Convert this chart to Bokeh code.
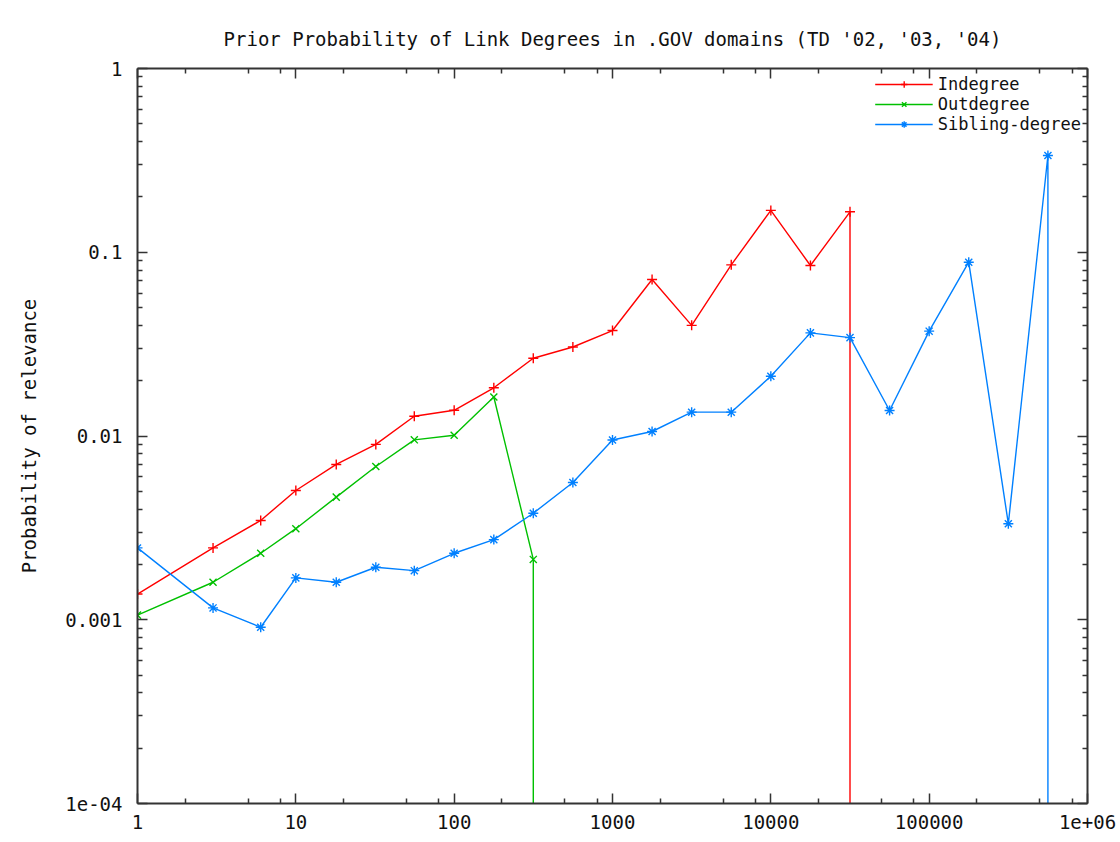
import numpy as np
from bokeh.plotting import figure
from bokeh.models import LogAxis, FixedTicker, Legend, LegendItem, Range1d
from bokeh.embed import file_html
from bokeh.resources import INLINE

# ---------------- data ----------------
chart_title = "Prior Probability of Link Degrees in .GOV domains (TD '02, '03, '04)"
y_label = "Probability of relevance"

degree_bins = [1, 3, 6, 10, 18, 32, 56, 100, 178, 316, 562, 1000, 1778, 3162,
               5623, 10000, 17783, 31623, 56234, 100000, 177828, 316228, 562341, 1000000]

indegree = [0.00138, 0.00246, 0.00347, 0.00505, 0.0070, 0.0090, 0.0128, 0.0138,
            0.0183, 0.0265, 0.0305, 0.0375, 0.0711, 0.0400, 0.0854, 0.169,
            0.0847, 0.166, 0.0]
outdegree = [0.00106, 0.00160, 0.00230, 0.00313, 0.00465, 0.00682, 0.00953, 0.0101,
             0.0163, 0.00213, 0.0]
sibling = [0.00246, 0.00116, 0.00091, 0.00169, 0.00160, 0.00193, 0.00185, 0.00230,
           0.00273, 0.00380, 0.00558, 0.00951, 0.01058, 0.01348, 0.01348, 0.02113,
           0.0364, 0.0343, 0.01376, 0.0372, 0.0883, 0.00333, 0.336, 0.0]

series_names = ["Indegree", "Outdegree", "Sibling-degree"]
series_values = [indegree, outdegree, sibling]
series_colors = ["#ff0000", "#00c000", "#0080ff"]
series_markers = ["cross", "x", "asterisk"]

x_tick_values = [1, 10, 100, 1000, 10000, 100000, 1000000]
x_tick_labels = ["1", "10", "100", "1000", "10000", "100000", "1e+06"]
y_tick_values = [0.0001, 0.001, 0.01, 0.1, 1]
y_tick_labels = ["1e-04", "0.001", "0.01", "0.1", "1"]

X_MIN, X_MAX = 1, 1000000
Y_MIN, Y_MAX = 0.0001, 1

# ---------------- figure ----------------
FONT = "DejaVu Sans Mono"
W, H = 1120, 842

p = figure(width=W, height=H, x_axis_type="log", y_axis_type="log",
           x_range=Range1d(X_MIN, X_MAX), y_range=Range1d(Y_MIN, Y_MAX),
           output_backend="svg", toolbar_location=None,
           min_border_left=137, min_border_right=33, min_border_top=68,
           min_border_bottom=39)
p.background_fill_color = "white"
p.border_fill_color = "white"
p.outline_line_color = None
p.xgrid.visible = False
p.ygrid.visible = False

p.title.text = chart_title
p.title.align = "center"
p.title.text_font = FONT
p.title.text_font_size = "19px"
p.title.text_font_style = "normal"
p.title.text_color = "#111111"
p.title.standoff = 38

bottom_axis = p.below[0]
left_axis = p.left[0]

x_minor = [m * 10 ** k for k in range(6) for m in (2, 5, 8)]
y_minor = [m * 10.0 ** k for k in range(-4, 0) for m in range(2, 10)]
xticker = FixedTicker(ticks=x_tick_values, minor_ticks=x_minor)
yticker = FixedTicker(ticks=y_tick_values, minor_ticks=y_minor)

top_axis = LogAxis(ticker=xticker)
right_axis = LogAxis(ticker=yticker)
p.add_layout(top_axis, "above")
p.add_layout(right_axis, "right")

for ax in (bottom_axis, left_axis, top_axis, right_axis):
    ax.major_tick_in = 10
    ax.major_tick_out = 0
    ax.minor_tick_in = 5
    ax.minor_tick_out = 0
    ax.axis_line_color = "#333333"
    ax.axis_line_width = 2
    ax.major_tick_line_color = "#333333"
    ax.major_tick_line_width = 1.5
    ax.minor_tick_line_color = "#333333"
    ax.minor_tick_line_width = 1.5
    ax.major_label_text_font = FONT
    ax.major_label_text_font_size = "19px"
    ax.major_label_text_color = "#111111"

bottom_axis.ticker = xticker
left_axis.ticker = yticker
bottom_axis.major_label_overrides = {float(v): s for v, s in zip(x_tick_values, x_tick_labels)}
left_axis.major_label_overrides = {float(v): s for v, s in zip(y_tick_values, y_tick_labels)}
bottom_axis.major_label_standoff = 11
left_axis.major_label_standoff = 15

# mirror axes: ticks only, labels not drawn
for ax in (top_axis, right_axis):
    ax.major_label_text_color = None
    ax.major_label_text_font_size = "2px"
    ax.major_label_standoff = 0
    ax.axis_label = None

left_axis.axis_label = y_label
left_axis.axis_label_text_font = FONT
left_axis.axis_label_text_font_size = "19px"
left_axis.axis_label_text_font_style = "normal"
left_axis.axis_label_text_color = "#111111"
left_axis.axis_label_standoff = 22

items = []
for name, vals, color, marker in zip(series_names, series_values, series_colors, series_markers):
    xs = np.array(degree_bins[:len(vals)], dtype=float)
    ys = np.array(vals, dtype=float)
    pos = ys > 0
    lx = list(xs[pos])
    ly = list(ys[pos])
    # a zero probability lies at -inf on the log axis: the line drops to the axis floor
    if (~pos).any():
        lx.append(lx[-1])
        ly.append(Y_MIN)
    lr = p.line(lx, ly, line_color=color, line_width=1.4)
    sr = p.scatter(xs[pos], ys[pos], marker=marker, size=10, line_color=color,
                   fill_color=color, line_width=1.4)
    items.append(LegendItem(label=name, renderers=[lr, sr]))

legend = Legend(items=items, location="top_right")
legend.border_line_alpha = 0
legend.background_fill_alpha = 0
legend.label_text_font = FONT
legend.label_text_font_size = "17px"
legend.label_text_color = "#111111"
legend.glyph_width = 58
legend.glyph_height = 16
legend.label_height = 16
legend.spacing = 0
legend.padding = 0
legend.margin = 6
p.add_layout(legend)

open("out.html", "w").write(file_html(p, INLINE))
